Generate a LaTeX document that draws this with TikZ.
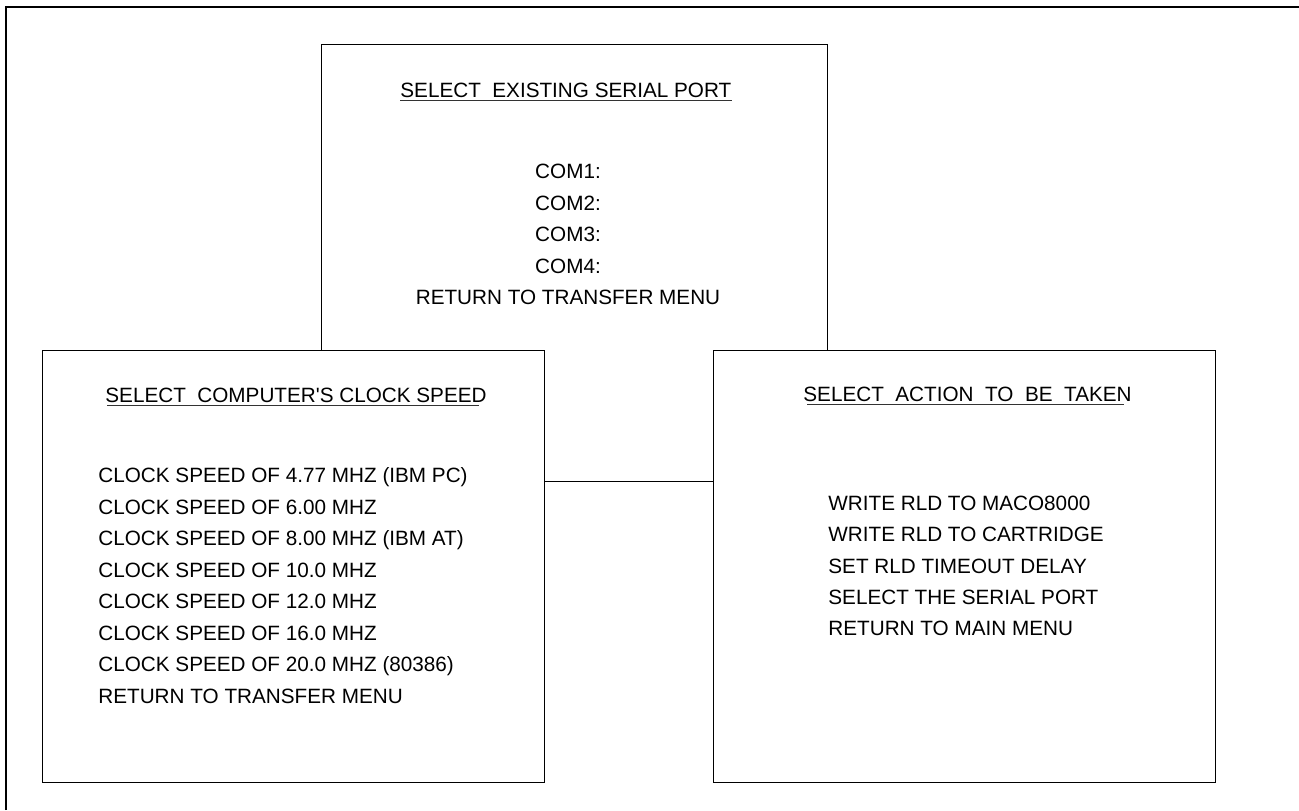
\documentclass[tikz,border=0pt]{standalone}
\usepackage{fontspec}
\setmainfont{Liberation Sans}[Ligatures=TeXOff]
\usepackage{tikz}
\usetikzlibrary{positioning}

\newcommand{\menufont}{\fontsize{10.35}{12}\selectfont}

\begin{document}
\begin{tikzpicture}[
        x=0.5pt, y=-0.5pt,
        menubox/.style={rectangle, draw, fill=white, line width=0.6pt, inner sep=0pt, minimum width=251pt, minimum height=216pt},
        title/.style={font=\menufont, inner sep=0pt, anchor=base west},
        entry/.style={font=\menufont, inner sep=0pt, anchor=base west},
        uline/.style={draw, line width=0.5pt, black!80},
        frame/.style={draw, line width=0.9pt}
    ]
    \useasboundingbox (0,0) rectangle (1299,810);

    % Outer frame
    \path [frame] (6,810) -- (6,7) -- (1299,7);

    % Boxes
    \node [menubox, anchor=north west, minimum width=253pt, minimum height=218.5pt] (portbox) at (321,44) {};
    \node [menubox, anchor=north west] (clockbox) at (42,350) {};
    \node [menubox, right=84pt of clockbox] (actionbox) {};

    % Titles
    \node [title] (porttitle) at (400,97.5) {SELECT\ \ EXISTING SERIAL PORT};
    \node [title] (clocktitle) at (105,402) {SELECT\ \ COMPUTER'S CLOCK SPEED};
    \node [title] (actiontitle) at (803,401) {SELECT\ \ ACTION\ \ TO\ \ BE\ \ TAKEN};

    \path [uline] ([yshift=-1.6pt]porttitle.base west) -- ([yshift=-1.6pt]porttitle.base east);
    \path [uline] ([shift={(1pt,-1.6pt)}]clocktitle.base west) -- ([shift={(-4pt,-1.6pt)}]clocktitle.base east);
    \path [uline] ([shift={(2pt,-1.6pt)}]actiontitle.base west) -- ([shift={(-4pt,-1.6pt)}]actiontitle.base east);

    % Entries
    \foreach \txt [count=\i from 0] in {COM1:, COM2:, COM3:, COM4:, RETURN TO TRANSFER MENU}
        \node [entry, anchor=base] (port\i) at (568, 178.5+31.5*\i) {\txt};

    \foreach \txt [count=\i from 0] in {CLOCK SPEED OF 4.77 MHZ (IBM PC), CLOCK SPEED OF 6.00 MHZ,
            CLOCK SPEED OF 8.00 MHZ (IBM AT), CLOCK SPEED OF 10.0 MHZ, CLOCK SPEED OF 12.0 MHZ,
            CLOCK SPEED OF 16.0 MHZ, CLOCK SPEED OF 20.0 MHZ (80386), RETURN TO TRANSFER MENU}
        \node [entry] (clock\i) at (98, 482.5+31.5*\i) {\txt};

    \foreach \txt [count=\i from 0] in {WRITE RLD TO MACO8000, WRITE RLD TO CARTRIDGE,
            SET RLD TIMEOUT DELAY, SELECT THE SERIAL PORT, RETURN TO MAIN MENU}
        \node [entry] (action\i) at (828, 510.5+31.3*\i) {\txt};

\end{tikzpicture}
\end{document}
